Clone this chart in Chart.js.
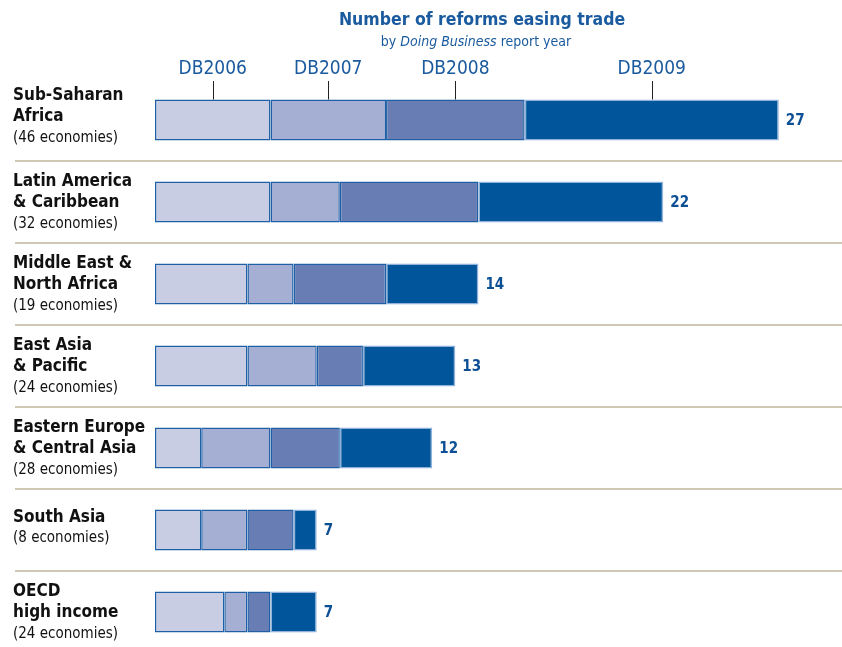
<!DOCTYPE html>
<html>
<head>
<meta charset="utf-8">
<script src="https://cdn.jsdelivr.net/npm/chart.js@4.4.1/dist/chart.umd.min.js"></script>
<style>
  html, body { margin: 0; padding: 0; background: #ffffff; overflow: hidden; }
  #wrap { position: relative; width: 842px; height: 690px; }
</style>
</head>
<body>
<div id="wrap"><canvas id="c" width="842" height="690"></canvas></div>
<script>
// ---- data ----
const regionNames = [
  ["Sub-Saharan", "Africa"],
  ["Latin America", "& Caribbean"],
  ["Middle East &", "North Africa"],
  ["East Asia", "& Pacific"],
  ["Eastern Europe", "& Central Asia"],
  ["South Asia"],
  ["OECD", "high income"]
];
const economies = ["(46 economies)", "(32 economies)", "(19 economies)", "(24 economies)", "(28 economies)", "(8 economies)", "(24 economies)"];
const seriesNames = ["DB2006", "DB2007", "DB2008", "DB2009"];
const db2006 = [5, 5, 4, 4, 2, 2, 3];
const db2007 = [5, 3, 2, 3, 3, 2, 1];
const db2008 = [6, 6, 4, 2, 3, 2, 1];
const db2009 = [11, 8, 4, 4, 4, 1, 2];
const titleText = "Number of reforms easing trade";

const colors = ["#c8cde3", "#a5aed3", "#687db3", "#00559b"];
const borders = ["#1f5fa5", "#1f5fa5", "#1f5fa5", "#8fb3da"];
const blue = "#1a5a9e";
const condensed = "'DejaVu Sans Condensed', 'DejaVu Sans', sans-serif";

const allSeries = [db2006, db2007, db2008, db2009];
const totals = db2006.map((_, i) => allSeries.reduce((s, a) => s + a[i], 0));

const decor = {
  id: 'decor',
  beforeDatasetsDraw(chart) {
    const ctx = chart.ctx;
    const y = chart.scales.y;
    ctx.save();
    ctx.strokeStyle = "#cfc9b4";
    ctx.lineWidth = 2;
    for (let i = 0; i < regionNames.length - 1; i++) {
      const py = Math.round((y.getPixelForValue(i) + y.getPixelForValue(i + 1)) / 2);
      ctx.beginPath();
      ctx.moveTo(15, py);
      ctx.lineTo(chart.width, py);
      ctx.stroke();
    }
    ctx.restore();
  },
  afterDatasetsDraw(chart) {
    const ctx = chart.ctx;
    const x = chart.scales.x;
    const y = chart.scales.y;
    ctx.save();
    // title
    ctx.fillStyle = blue;
    ctx.textAlign = "center";
    ctx.textBaseline = "middle";
    ctx.font = "bold 17.5px " + condensed;
    ctx.fillText(titleText, 482, 20);
    // subtitle with italic part
    const parts = [["by ", "normal"], ["Doing Business", "italic"], [" report year", "normal"]];
    const fs = "14px " + condensed;
    let w = 0;
    parts.forEach(p => { ctx.font = (p[1] === "italic" ? "italic " : "") + fs; w += ctx.measureText(p[0]).width; });
    let sx = 476 - w / 2;
    ctx.textAlign = "left";
    parts.forEach(p => {
      ctx.font = (p[1] === "italic" ? "italic " : "") + fs;
      ctx.fillText(p[0], sx, 42);
      sx += ctx.measureText(p[0]).width;
    });
    // series header labels + ticks, at centers of first bar's segments
    const y0 = y.getPixelForValue(0);
    const barTop = y0 - 20.5;
    let cum = 0;
    ctx.textAlign = "center";
    ctx.font = "19px " + condensed;
    allSeries.forEach((arr, k) => {
      const mid = x.getPixelForValue(cum + arr[0] / 2);
      cum += arr[0];
      ctx.strokeStyle = "#222222";
      ctx.lineWidth = 1;
      ctx.beginPath();
      ctx.moveTo(Math.round(mid) + 0.5, 81);
      ctx.lineTo(Math.round(mid) + 0.5, barTop);
      ctx.stroke();
      ctx.fillStyle = blue;
      ctx.fillText(seriesNames[k], mid, 69);
    });
    // totals
    ctx.textAlign = "left";
    ctx.font = "bold 15px " + condensed;
    ctx.fillStyle = "#0d4f94";
    totals.forEach((t, i) => {
      ctx.fillText(String(t), x.getPixelForValue(t) + 7, y.getPixelForValue(i) + 1);
    });
    // region labels
    const lh = 21;
    regionNames.forEach((lines, i) => {
      const all = lines.length + 1;
      let shift = 1;
      if (lines.length === 1) shift = -2;
      if (i === 0) shift = -3;
      const cy = y.getPixelForValue(i) + shift;
      let ly = cy - (all - 1) * lh / 2;
      ctx.fillStyle = "#111111";
      ctx.font = "bold 17px " + condensed;
      lines.forEach(l => { ctx.fillText(l, 13, ly); ly += lh; });
      ctx.font = "15px " + condensed;
      ctx.fillText(economies[i], 13, ly);
    });
    ctx.restore();
  }
};

new Chart(document.getElementById('c'), {
  type: 'bar',
  data: {
    labels: regionNames.map(r => r.join(" ")),
    datasets: allSeries.map((arr, k) => ({
      label: seriesNames[k],
      data: arr,
      backgroundColor: colors[k],
      borderColor: borders[k],
      borderWidth: 1.5,
      borderSkipped: false,
      barPercentage: 0.5,
      categoryPercentage: 1.0
    }))
  },
  options: {
    indexAxis: 'y',
    responsive: false,
    animation: false,
    layout: { padding: { top: 79, bottom: 37, left: 155, right: 17 } },
    plugins: { legend: { display: false }, tooltip: { enabled: false }, title: { display: false } },
    scales: {
      x: { stacked: true, min: 0, max: 29, display: false },
      y: { stacked: true, display: false }
    }
  },
  plugins: [decor]
});
</script>
</body>
</html>
